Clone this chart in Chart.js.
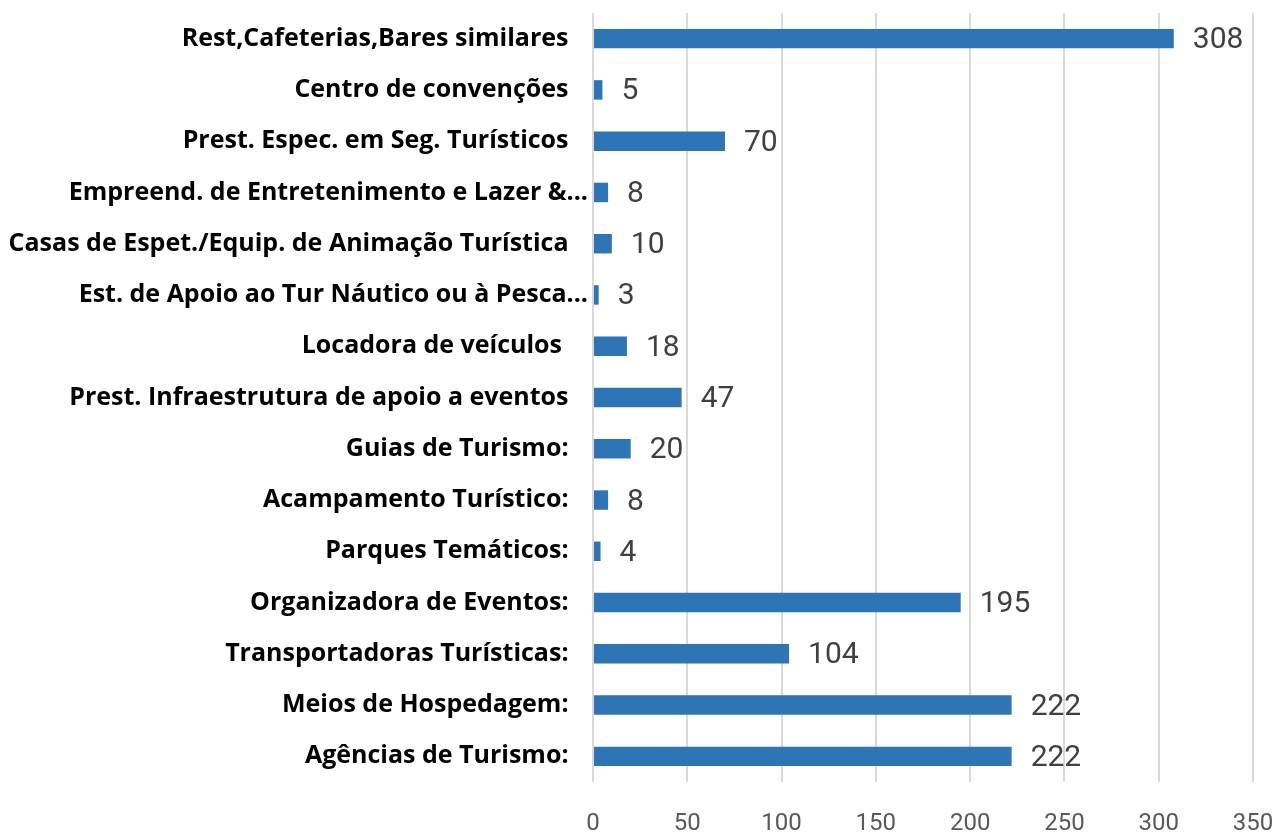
<!DOCTYPE html>
<html>
<head>
<meta charset="utf-8">
<script src="https://cdn.jsdelivr.net/npm/chart.js@4"></script>
<style>
  html, body { margin: 0; padding: 0; background: #fff; }
  #wrap { width: 1280px; height: 834px; }
</style>
</head>
<body>
<div id="wrap"><canvas id="chart"></canvas></div>
<script>
/* =========================
   DADOS
========================= */

const categorias = [
  "Rest,Cafeterias,Bares similares",
  "Centro de convenções",
  "Prest. Espec. em Seg. Turísticos",
  "Empreend. de Entretenimento e Lazer &...",
  "Casas de Espet./Equip. de Animação Turística",
  "Est. de Apoio ao Tur Náutico ou à Pesca...",
  "Locadora de veículos ",
  "Prest. Infraestrutura de apoio a eventos",
  "Guias de Turismo:",
  "Acampamento Turístico:",
  "Parques Temáticos:",
  "Organizadora de Eventos:",
  "Transportadoras Turísticas:",
  "Meios de Hospedagem:",
  "Agências de Turismo:"
];

const quantidades = [308, 5, 70, 8, 10, 3, 18, 47, 20, 8, 4, 195, 104, 222, 222];

const ticksX = [0, 50, 100, 150, 200, 250, 300, 350];

/* =========================
   RÓTULOS DE DADOS
========================= */

const rotulosPlugin = {
  id: "rotulos",
  afterDatasetsDraw(chart) {
    const ctx = chart.ctx;
    const meta = chart.getDatasetMeta(0);
    ctx.save();
    ctx.font = "30px Roboto";
    ctx.fillStyle = "#404040";
    ctx.textAlign = "left";
    ctx.textBaseline = "middle";
    meta.data.forEach((bar, i) => {
      ctx.fillText(String(quantidades[i]), bar.x + 19, bar.y + 2);
    });
    ctx.restore();
  }
};

/* =========================
   CHART
========================= */

new Chart(document.getElementById("chart"), {
  type: "bar",
  data: {
    labels: categorias,
    datasets: [
      {
        data: quantidades,
        backgroundColor: "#2E75B6",
        borderWidth: 0,
        barPercentage: 0.38,
        categoryPercentage: 1
      }
    ]
  },
  options: {
    indexAxis: "y",
    responsive: true,
    maintainAspectRatio: false,
    animation: false,
    layout: { padding: { top: 13, right: 27, bottom: 0, left: 0 } },
    plugins: {
      legend: { display: false },
      tooltip: { enabled: false }
    },
    scales: {
      x: {
        min: 0,
        max: 350,
        afterBuildTicks: s => { s.ticks = ticksX.map(v => ({ value: v })); },
        afterFit: s => {
          s.height = 52;
          s.paddingLeft = 0;
          s.paddingRight = 0;
        },
        grid: { color: "#d9d9d9", lineWidth: 2, drawTicks: false },
        border: { display: false },
        ticks: {
          padding: 28,
          color: "#595959",
          font: { family: "Roboto", size: 24 }
        }
      },
      y: {
        afterFit: s => {
          s.width = 593;
          s.paddingTop = 0;
          s.paddingBottom = 0;
        },
        grid: { display: false },
        border: { display: false },
        ticks: {
          padding: -3,
          color: "#000",
          font: { family: "Open Sans", size: 25, weight: "bold" },
          // rótulos truncados (&...) avançam até o eixo, os demais ficam recuados
          callback: function (v) {
            const txt = this.getLabelForValue(v);
            return txt.endsWith("...") ? txt : txt + "   ";
          }
        }
      }
    }
  },
  plugins: [rotulosPlugin]
});
</script>
</body>
</html>
